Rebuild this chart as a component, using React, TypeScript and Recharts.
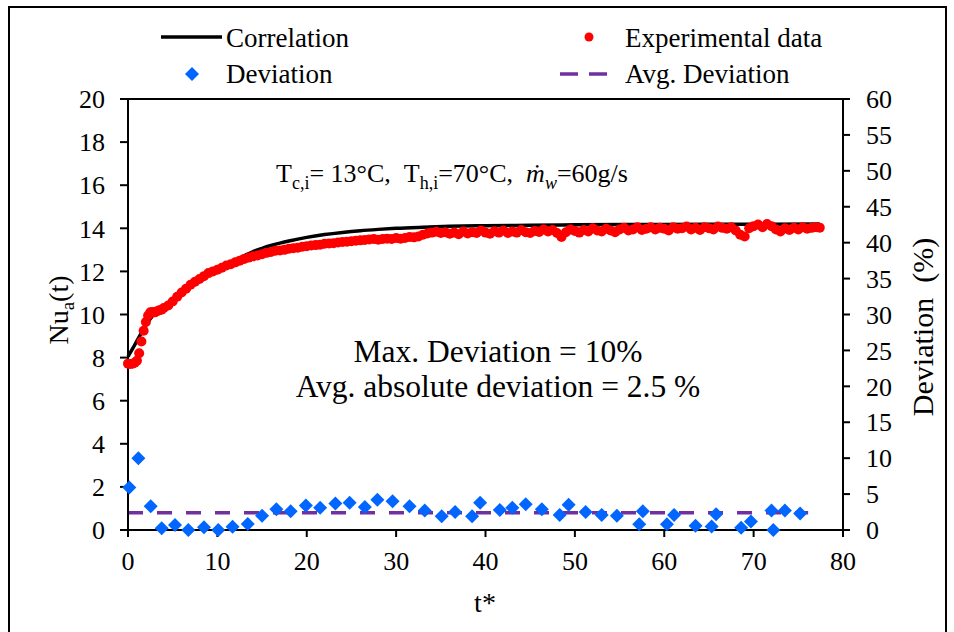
import { ComposedChart, Line, Scatter, XAxis, YAxis, ReferenceLine } from 'recharts'

const xTicks = [0, 10, 20, 30, 40, 50, 60, 70, 80]
const nuTicks = [0, 2, 4, 6, 8, 10, 12, 14, 16, 18, 20]
const devTicks = [0, 5, 10, 15, 20, 25, 30, 35, 40, 45, 50, 55, 60]

// correlation curve (black line)
const corrT = [0, 0.5, 1, 1.5, 2, 2.5, 3, 4, 5, 6, 7, 8, 9, 10, 11, 12, 13, 14, 15, 16, 17, 18, 20, 22, 24, 26, 28, 30, 33, 36, 40, 45, 50, 60, 70, 77.4]
const corrNu = [8.05, 8.4, 8.78, 9.15, 9.5, 9.8, 10.05, 10.38, 10.7, 11.04, 11.38, 11.68, 11.96, 12.15, 12.34, 12.52, 12.72, 12.92, 13.07, 13.2, 13.31, 13.41, 13.58, 13.71, 13.81, 13.89, 13.95, 14.0, 14.05, 14.09, 14.12, 14.14, 14.16, 14.18, 14.19, 14.2]

// experimental data (red dots)
const expT = [
  0, 0.25, 0.5, 0.75, 1, 1.25, 1.5, 1.75, 2, 2.25, 2.5, 2.75, 3, 3.25, 3.5, 3.75, 4,
  4.5, 5, 5.5, 6, 6.5, 7, 7.5, 8, 8.5, 9, 9.5, 10, 10.5, 11, 11.5, 12, 12.5, 13, 13.5, 14,
  14.5, 15, 15.5, 16, 16.5, 17, 17.5, 18, 18.5, 19, 19.5, 20, 20.5, 21, 21.5, 22, 22.5, 23,
  23.5, 24, 24.5, 25, 25.5, 26, 26.5, 27, 27.5, 28, 28.5, 29, 29.5, 30, 30.5, 31, 31.5, 32,
  32.5, 33, 33.5, 34, 34.5, 35, 35.5, 36, 36.5, 37, 37.5, 38, 38.5, 39, 39.5, 40, 40.5, 41,
  41.5, 42, 42.5, 43, 43.5, 44, 44.5, 45, 45.5, 46, 46.5, 47, 47.5, 48, 48.5, 49, 49.5, 50,
  50.5, 51, 51.5, 52, 52.5, 53, 53.5, 54, 54.5, 55, 55.5, 56, 56.5, 57, 57.5, 58, 58.5, 59,
  59.5, 60, 60.5, 61, 61.5, 62, 62.5, 63, 63.5, 64, 64.5, 65, 65.5, 66, 66.5, 67, 67.5, 68,
  68.5, 69, 69.5, 70, 70.5, 71, 71.5, 72, 72.5, 73, 73.5, 74, 74.5, 75, 75.5, 76, 76.5, 77, 77.4,
]
const expNu = [
  7.72, 7.7, 7.72, 7.76, 7.85, 8.2, 8.75, 9.25, 9.65, 9.95, 10.1, 10.12, 10.1, 10.15, 10.2, 10.22, 10.3,
  10.42, 10.6, 10.82, 11.02, 11.2, 11.38, 11.52, 11.65, 11.78, 11.92, 12.0, 12.08, 12.17, 12.27, 12.33, 12.42, 12.5, 12.58, 12.64, 12.7,
  12.74, 12.8, 12.86, 12.9, 12.96, 12.97, 13.0, 13.05, 13.08, 13.1, 13.14, 13.17, 13.2, 13.22, 13.24, 13.28, 13.3, 13.31,
  13.34, 13.37, 13.38, 13.4, 13.42, 13.44, 13.46, 13.48, 13.5, 13.47, 13.5, 13.52, 13.5, 13.55, 13.52, 13.55, 13.6, 13.58,
  13.62, 13.7, 13.76, 13.8, 13.84, 13.78, 13.82, 13.75, 13.8, 13.72, 13.85, 13.76, 13.82, 13.78, 13.9, 13.8, 13.75, 13.86,
  13.8, 13.9, 13.78, 13.85, 13.8, 13.92, 13.82, 13.78, 13.88, 13.83, 13.95, 13.85, 13.92, 13.78, 13.6, 13.82, 13.95, 13.88,
  13.8, 13.92, 13.85, 14.0, 13.9, 13.85, 13.98, 13.9, 13.82, 13.95, 14.02, 13.9, 13.95, 14.05, 13.92, 13.98, 14.05, 13.95,
  14.02, 13.98, 13.9, 14.05, 13.98, 14.0, 14.08, 13.95, 14.02, 13.92, 14.05, 14.0, 13.95, 14.08, 14.02, 13.98, 14.05, 13.9,
  13.7, 13.62, 14.0, 14.1, 14.18, 14.05, 14.2, 14.1, 13.95, 13.85, 14.0, 13.92, 14.02, 13.95, 14.05, 13.98, 14.02, 14.05, 14.03,
]

// deviation (%) (blue diamonds)
const devT = [0.15, 1.16, 2.54, 3.77, 5.26, 6.75, 8.5, 10.1, 11.7, 13.4, 15.0, 16.6, 18.2, 19.9, 21.5, 23.2, 24.8, 26.5, 27.9, 29.6, 31.5, 33.2, 35.1, 36.6, 38.5, 39.4, 41.6, 43.0, 44.5, 46.3, 48.3, 49.3, 51.2, 53.0, 54.7, 57.2, 57.6, 60.3, 61.1, 63.5, 65.3, 65.8, 68.6, 69.7, 72.0, 72.2, 73.5, 75.2]
const devPct = [5.9, 10.0, 3.3, 0.25, 0.7, 0, 0.37, 0, 0.46, 0.85, 2.0, 2.9, 2.6, 3.4, 3.1, 3.7, 3.8, 3.2, 4.2, 4.0, 3.3, 2.7, 1.9, 2.5, 1.9, 3.8, 2.8, 3.1, 3.6, 2.9, 2.1, 3.5, 2.5, 2.1, 2.0, 0.8, 2.6, 0.8, 2.1, 0.6, 0.5, 2.2, 0.3, 1.2, 2.7, 0, 2.7, 2.3]

// average deviation (purple dashed)
const avgT = [0, 76.1]
const avgPct = [2.4, 2.4]

const correlation = corrT.map((t, i) => ({ t, nu: corrNu[i] }))
const experimental = expT.map((t, i) => ({ t, nu: expNu[i] }))
const deviation = devT.map((t, i) => ({ t, dev: devPct[i] }))
const avgDeviation = avgT.map((t, i) => ({ t, dev: avgPct[i] }))

const FONT = 'Liberation Serif, Times New Roman, serif'
const axisStyle = { stroke: '#000', strokeWidth: 2 }

function AxisTick(props: any) {
  const { x, y, payload, textAnchor, verticalAnchor } = props
  const dy = verticalAnchor === 'start' ? '0.71em' : verticalAnchor === 'end' ? '0' : '0.355em'
  return (
    <text x={x} y={y} dy={dy} textAnchor={textAnchor} fontSize={26} fontFamily={FONT} fill="#000">
      {payload.value}
    </text>
  )
}

function RedDot(props: any) {
  const { cx, cy } = props
  if (cx == null || cy == null) return null
  return <circle cx={cx} cy={cy} r={5} fill="#ff0000" />
}

function Diamond(props: any) {
  const { cx, cy } = props
  if (cx == null || cy == null) return null
  const r = 7
  return <polygon points={`${cx},${cy - r} ${cx + r},${cy} ${cx},${cy + r} ${cx - r},${cy}`} fill="#0066ff" />
}

export default function App() {
  return (
    <div style={{ position: 'absolute', left: 0, top: 0, width: 954, height: 632, background: '#fff', fontFamily: FONT }}>
      <ComposedChart width={954} height={632} margin={{ top: 99, right: 51, bottom: 52, left: 68 }}>
        <XAxis
          dataKey="t"
          type="number"
          domain={[0, 80]}
          ticks={xTicks}
          interval={0}
          height={50}
          tickSize={7}
          tickMargin={15}
          axisLine={axisStyle}
          tickLine={axisStyle}
          tick={<AxisTick />}
        />
        <YAxis
          yAxisId="left"
          dataKey="nu"
          type="number"
          domain={[0, 20]}
          ticks={nuTicks}
          interval={0}
          width={60}
          tickSize={8}
          tickMargin={15}
          axisLine={axisStyle}
          tickLine={axisStyle}
          tick={<AxisTick />}
        />
        <YAxis
          yAxisId="right"
          orientation="right"
          dataKey="dev"
          type="number"
          domain={[0, 60]}
          ticks={devTicks}
          interval={0}
          width={60}
          tickSize={7}
          tickMargin={16}
          axisLine={axisStyle}
          tickLine={axisStyle}
          tick={<AxisTick />}
        />
        <ReferenceLine yAxisId="left" y={20} stroke="#000" strokeWidth={2} />
        <Line
          yAxisId="left"
          data={correlation}
          dataKey="nu"
          type="monotone"
          stroke="#000"
          strokeWidth={3.5}
          dot={false}
          activeDot={false}
          isAnimationActive={false}
        />
        <Scatter yAxisId="left" data={experimental} dataKey="nu" shape={RedDot} isAnimationActive={false} />
        <Line
          yAxisId="right"
          data={avgDeviation}
          dataKey="dev"
          stroke="#7030a0"
          strokeWidth={3.5}
          strokeDasharray="15 14"
          dot={false}
          activeDot={false}
          isAnimationActive={false}
        />
        <Scatter yAxisId="right" data={deviation} dataKey="dev" shape={Diamond} isAnimationActive={false} />
      </ComposedChart>

      <svg width={954} height={632} style={{ position: 'absolute', left: 0, top: 0, pointerEvents: 'none' }} fontFamily={FONT} fill="#000">
        <rect x={9} y={7} width={937} height={700} fill="none" stroke="#000" strokeWidth={2} />

        {/* legend */}
        <line x1={161} x2={222} y1={37} y2={37} stroke="#000" strokeWidth={3.5} />
        <text x={226} y={47} fontSize={27}>Correlation</text>
        <circle cx={589} cy={37} r={4.5} fill="#ff0000" />
        <text x={625} y={47} fontSize={27}>Experimental data</text>
        <polygon points="192,67 199,74 192,81 185,74" fill="#0066ff" />
        <text x={226} y={83} fontSize={27}>Deviation</text>
        <line x1={560} x2={608} y1={74} y2={74} stroke="#7030a0" strokeWidth={3.5} strokeDasharray="18 11" />
        <text x={625} y={83} fontSize={27}>Avg. Deviation</text>

        {/* conditions */}
        <text x={276} y={182} fontSize={26}>
          T<tspan dy={7} fontSize={18}>c,i</tspan>
          <tspan dy={-7}>= 13°C,{'\u00A0\u00A0'}T</tspan>
          <tspan dy={7} fontSize={18}>h,i</tspan>
          <tspan dy={-7}>=70°C,{'\u00A0\u00A0'}</tspan>
          <tspan fontStyle="italic">ṁ</tspan>
          <tspan dy={7} fontSize={18} fontStyle="italic">w</tspan>
          <tspan dy={-7}>=60g/s</tspan>
        </text>

        {/* deviation summary */}
        <text x={498} y={362} fontSize={31.5} textAnchor="middle">Max. Deviation = 10%</text>
        <text x={498} y={397} fontSize={31.5} textAnchor="middle">Avg. absolute deviation = 2.5 %</text>

        {/* axis titles */}
        <text x={485} y={612} fontSize={28} textAnchor="middle">t*</text>
        <text transform="translate(68,310) rotate(-90)" fontSize={28} textAnchor="middle">
          Nu<tspan dy={6} fontSize={19}>a</tspan>
          <tspan dy={-6}>(t)</tspan>
        </text>
        <text transform="translate(933,327) rotate(-90)" fontSize={30} textAnchor="middle">
          Deviation{'\u00A0\u00A0'}(%)
        </text>
      </svg>
    </div>
  )
}
